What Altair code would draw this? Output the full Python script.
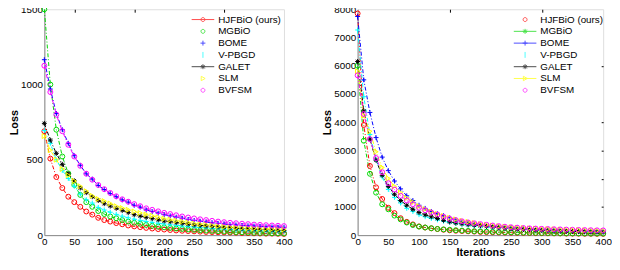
import altair as alt
import pandas as pd

iters = list(range(0, 401, 10))
methods = ["HJFBiO (ours)", "MGBiO", "BOME", "V-PBGD", "GALET", "SLM", "BVFSM"]
colors = ["#ff0000", "#00d800", "#0000ff", "#00ffff", "#000000", "#ffff00", "#ff00ff"]

# ---- left panel values (loss at iterations 0,10,...,400) ----
left_hjfbio = [690, 508, 386, 313, 255, 219, 188, 157, 136, 115,
               100, 90, 80, 72, 64, 58, 53, 48, 44, 40,
               37, 34, 31, 29, 27, 25, 23, 21, 20, 19,
               18, 17, 16, 14, 13, 12, 11, 10, 10, 9, 8]
left_mgbio = [1500, 1000, 700, 522, 410, 334, 267, 219, 188, 160,
              140, 124, 112, 100, 90, 82, 75, 68, 62, 57,
              52, 48, 44, 41, 38, 35, 32, 30, 28, 26,
              24, 22, 20, 19, 17, 16, 15, 14, 13, 12, 11]
left_bome = [1165, 970, 808, 700, 610, 527, 464, 407, 372, 330,
             303, 276, 255, 234, 219, 198, 186, 167, 157, 146,
             136, 128, 119, 112, 104, 97, 92, 87, 82, 78,
             74, 70, 67, 64, 62, 60, 58, 56, 55, 53, 52]
left_vpbgd = [695, 610, 500, 430, 376, 324, 272, 235, 213, 184,
              167, 152, 138, 126, 115, 106, 98, 91, 85, 79,
              74, 69, 65, 61, 57, 54, 51, 48, 45, 43,
              40, 38, 36, 34, 32, 31, 29, 28, 27, 26, 25]
left_galet = [742, 631, 543, 470, 407, 361, 313, 282, 255, 230,
              209, 193, 178, 164, 150, 136, 127, 118, 110, 102,
              94, 89, 83, 78, 73, 68, 64, 61, 58, 55,
              52, 49, 46, 44, 42, 40, 38, 36, 34, 32, 31]
left_slm = [658, 564, 501, 439, 397, 359, 324, 292, 261, 240,
            226, 210, 192, 180, 168, 157, 147, 137, 128, 118,
            109, 102, 96, 90, 84, 77, 73, 69, 65, 60,
            56, 53, 50, 48, 46, 44, 42, 41, 40, 39, 38]
left_bvfsm = [1125, 950, 800, 690, 600, 522, 460, 408, 368, 333,
              305, 280, 258, 238, 222, 206, 192, 178, 168, 158,
              148, 140, 132, 124, 117, 111, 105, 100, 95, 90,
              86, 82, 79, 76, 73, 70, 68, 66, 64, 62, 60]

# ---- right panel values ----
right_hjfbio = [7850, 3900, 2450, 1694, 1281, 969, 780, 600, 470, 380,
                310, 270, 240, 215, 190, 170, 155, 145, 135, 125,
                111, 105, 100, 95, 90, 86, 82, 78, 74, 70,
                67, 64, 61, 58, 55, 53, 51, 49, 47, 46, 45]
right_mgbio = [6000, 3343, 2173, 1504, 1092, 914, 691, 557, 446, 357,
               301, 270, 245, 220, 205, 190, 175, 160, 148, 140,
               134, 125, 118, 112, 106, 100, 95, 90, 86, 82,
               78, 75, 72, 69, 66, 64, 62, 60, 58, 57, 56]
right_bome = [7744, 5500, 4345, 3454, 2763, 2284, 1916, 1638, 1393, 1226,
              1058, 947, 836, 758, 691, 613, 540, 468, 430, 390,
              357, 335, 315, 295, 280, 267, 253, 240, 228, 214,
              200, 192, 184, 176, 168, 160, 152, 147, 142, 138, 134]
right_vpbgd = [7265, 4903, 3565, 2674, 2061, 1616, 1337, 1137, 947, 836,
               724, 650, 590, 540, 490, 446, 410, 380, 350, 325,
               301, 285, 268, 253, 238, 223, 212, 200, 190, 178,
               167, 160, 152, 145, 138, 132, 126, 121, 117, 114, 111]
right_galet = [6150, 4401, 3398, 2652, 2117, 1727, 1448, 1226, 1058, 914,
               802, 720, 650, 590, 525, 468, 430, 400, 370, 350,
               334, 310, 290, 270, 245, 223, 212, 200, 190, 178,
               167, 160, 152, 145, 138, 132, 126, 121, 117, 114, 111]
right_slm = [5800, 4234, 3677, 2952, 2396, 2005, 1727, 1504, 1315, 1170,
             1025, 920, 830, 750, 680, 613, 560, 510, 470, 430,
             390, 365, 340, 318, 298, 279, 265, 252, 240, 232,
             223, 215, 207, 200, 193, 186, 179, 172, 166, 161, 156]
right_bvfsm = [5660, 4290, 3398, 2730, 2228, 1838, 1616, 1393, 1226, 1092,
               969, 880, 800, 730, 650, 579, 530, 490, 450, 420,
               390, 365, 340, 318, 298, 279, 265, 252, 240, 232,
               223, 216, 209, 202, 196, 190, 184, 179, 174, 170, 167]

left_series = [left_hjfbio, left_mgbio, left_bome, left_vpbgd, left_galet, left_slm, left_bvfsm]
right_series = [right_hjfbio, right_mgbio, right_bome, right_vpbgd, right_galet, right_slm, right_bvfsm]


def to_df(series_list):
    rows = []
    for name, vals in zip(methods, series_list):
        for it, v in zip(iters, vals):
            rows.append({"iter": it, "loss": v, "method": name})
    return pd.DataFrame(rows)


# marker shapes (unit paths)
CIRCLE = "circle"
PLUS = "M-1,0L1,0M0,-1L0,1"
ASTER = "M-1,0L1,0M0,-1L0,1M-0.7,-0.7L0.7,0.7M-0.7,0.7L0.7,-0.7"
TRI = "triangle-right"
point_shapes = [CIRCLE, CIRCLE, PLUS, PLUS, ASTER, TRI, CIRCLE]

# legend symbols (line segment + small marker)
L = "M-2.3,0L2.3,0"
c_ = "M-0.4,0A0.4,0.4,0,1,1,0.4,0A0.4,0.4,0,1,1,-0.4,0"
p_ = "M-0.5,0L0.5,0M0,-0.5L0,0.5"
a_ = "M-0.5,0L0.5,0M0,-0.5L0,0.5M-0.35,-0.35L0.35,0.35M-0.35,0.35L0.35,-0.35"
bar_ = "M0,-0.6L0,0.6"
t_ = "M-0.35,-0.45L0.45,0L-0.35,0.45Z"
left_legend_shapes = [L + c_, c_, p_, bar_, L + a_, t_, c_]
right_legend_shapes = [c_, L + a_, L + p_, bar_, L + a_, L + t_, c_]

FONT = "Liberation Sans"
PLOT_H = 230


def panel(series_list, ymax, yvals, legend_shapes, top_ticks, right_ticks, w, legx, legy):
    df = to_df(series_list)
    base = alt.Chart(df)
    xs = alt.Scale(domain=[0, 400], nice=False, zero=False)
    ys = alt.Scale(domain=[0, ymax], nice=False)
    xaxis = alt.Axis(values=list(range(0, 401, 50)), title="Iterations", ticks=False,
                     grid=False, labelFlush=False, labelPadding=2, titlePadding=0,
                     format="d")
    yaxis = alt.Axis(values=yvals, title="Loss", ticks=False, grid=False,
                     labelPadding=2, titlePadding=1, format="d")
    layers = []
    first = True
    for name, col in zip(methods, colors):
        layers.append(
            base.transform_filter(alt.datum.method == name).mark_line(
                strokeWidth=1, strokeDash=[4, 2, 1, 2], color=col
            ).encode(
                x=alt.X("iter:Q", scale=xs, axis=xaxis if first else None),
                y=alt.Y("loss:Q", scale=ys, axis=yaxis if first else None),
            )
        )
        first = False
    for name, col, shp in zip(methods, colors, point_shapes):
        layers.append(
            base.transform_filter(alt.datum.method == name).mark_point(
                filled=False, size=25, strokeWidth=1, opacity=1, shape=shp, color=col
            ).encode(
                x=alt.X("iter:Q", scale=xs, axis=None),
                y=alt.Y("loss:Q", scale=ys, axis=None),
            )
        )
    leg = alt.Legend(orient="none", legendX=legx, legendY=legy, title=None,
                     symbolSize=100, symbolStrokeWidth=1, labelFontSize=10,
                     labelFont=FONT, labelColor="black", labelOffset=10,
                     rowPadding=1.0, padding=0, symbolLimit=0)
    top_axis = alt.Axis(orient="top", values=top_ticks, labels=False, domain=False,
                        grid=False, ticks=True, tickSize=3, offset=-3,
                        tickColor="black", title=None)
    if right_ticks:
        right_axis = alt.Axis(orient="right", values=right_ticks, labels=False, domain=False,
                              grid=False, ticks=True, tickSize=2, offset=-2,
                              tickColor="black", title=None)
    else:
        right_axis = None
    legend_layer = base.mark_point(filled=False, strokeWidth=1, size=0).encode(
        x=alt.X("iter:Q", scale=xs, axis=top_axis),
        y=alt.Y("loss:Q", scale=ys, axis=right_axis),
        color=alt.Color("method:N", scale=alt.Scale(domain=methods, range=colors), legend=leg),
        shape=alt.Shape("method:N", scale=alt.Scale(domain=methods, range=legend_shapes), legend=leg),
    )
    layers.append(legend_layer)
    return alt.layer(*layers).resolve_axis(
        x="independent", y="independent").properties(width=w, height=PLOT_H)


left = panel(left_series, 1500, [0, 500, 1000, 1500], left_legend_shapes,
             [50, 150, 300], [], 244, 156, 5)
right = panel(right_series, 8000, list(range(0, 8001, 1000)), right_legend_shapes,
              [150, 300], [1000, 2000, 3000, 4000, 6000], 250, 165, 5)

chart = alt.hconcat(left, right, spacing=29).resolve_scale(
    color="independent", shape="independent"
).resolve_legend(color="independent", shape="independent").properties(
    padding={"left": 0, "top": -7, "right": 0, "bottom": -4}
).configure_view(stroke=None).configure_axis(
    domainColor="black", domainWidth=1, labelFont=FONT, labelFontSize=10,
    labelColor="black", titleFont=FONT, titleFontSize=11, titleFontWeight="bold",
    titleColor="black"
).configure(background="white")

chart.save("out.html", embed_options={"renderer": "svg", "actions": False})
